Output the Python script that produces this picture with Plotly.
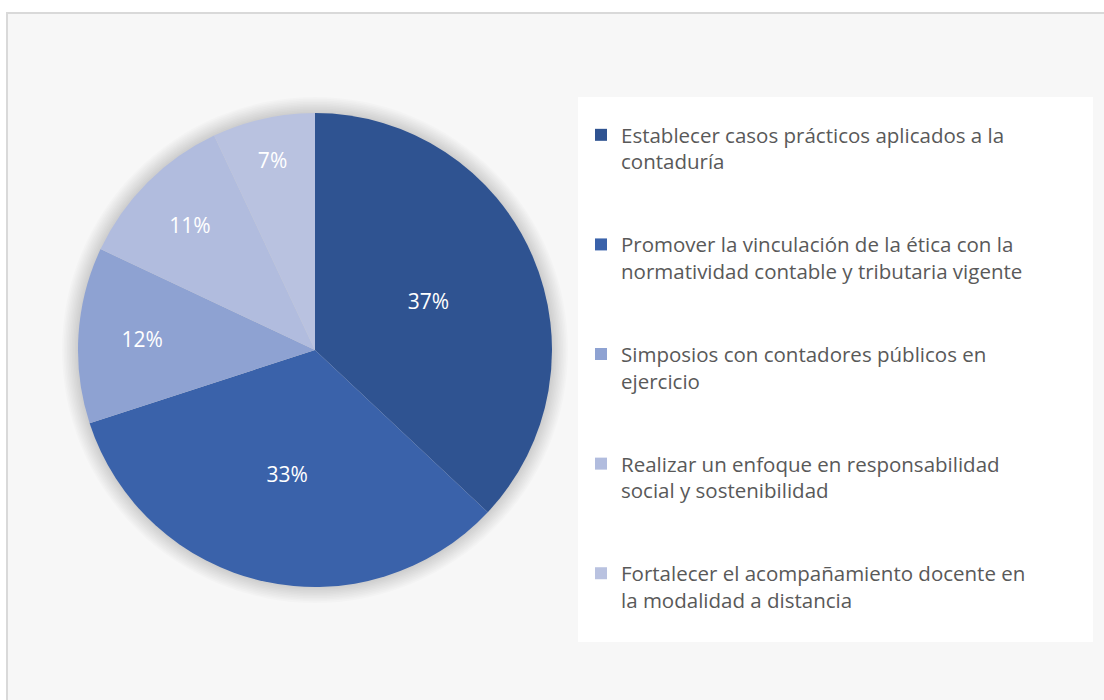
import plotly.graph_objects as go

categories = [
    "Establecer casos prácticos aplicados a la<br>contaduría",
    "Promover la vinculación de la ética con la<br>normatividad contable y tributaria vigente",
    "Simposios con contadores públicos en<br>ejercicio",
    "Realizar un enfoque en responsabilidad<br>social y sostenibilidad",
    "Fortalecer el acompañamiento docente en<br>la modalidad a distancia",
]
values = [37, 33, 12, 11, 7]
colors = ["#2f5391", "#3a62aa", "#8ea2d2", "#b1bcde", "#b9c2e0"]

W, H = 1104, 700


def px(x):
    return x / W


def py(y):
    return 1 - y / H


cx, cy, r = 315, 350, 237

legend_labels = [c + "<br> <br> " for c in categories]

fig = go.Figure()
fig.add_trace(go.Pie(
    labels=legend_labels,
    values=values,
    marker=dict(colors=colors, line=dict(width=0)),
    sort=False,
    direction="clockwise",
    rotation=0,
    textinfo="percent",
    textposition="inside",
    insidetextfont=dict(color="white", size=21, family="Open Sans"),
    insidetextorientation="horizontal",
    domain=dict(x=[px(cx - r), px(cx + r)], y=[py(cy + r), py(cy - r)]),
    hoverinfo="skip",
))

shapes = [
    # chart frame
    dict(type="rect", xref="paper", yref="paper", x0=px(7), x1=1.05, y0=-0.05, y1=py(13),
         fillcolor="#f7f7f7", line=dict(color="#d9d9d9", width=2), layer="below"),
    # legend box
    dict(type="rect", xref="paper", yref="paper", x0=px(578), x1=px(1093), y0=py(642), y1=py(97),
         fillcolor="white", line=dict(width=0), layer="below"),
]
for i in range(1, 11):
    rr = r + i * 1.6
    shapes.append(dict(type="circle", xref="paper", yref="paper",
                       x0=px(cx - rr), x1=px(cx + rr),
                       y0=py(cy + rr), y1=py(cy - rr),
                       fillcolor="rgba(0,0,0,0.017)", line=dict(width=0), layer="below"))

fig.update_layout(
    width=W, height=H,
    margin=dict(l=0, r=0, t=0, b=0),
    paper_bgcolor="white",
    plot_bgcolor="white",
    shapes=shapes,
    showlegend=True,
    legend=dict(
        x=px(581), y=py(115), xanchor="left", yanchor="top",
        bgcolor="rgba(0,0,0,0)",
        font=dict(family="Open Sans", size=20.5, color="#595959"),
        valign="top",
        itemclick=False, itemdoubleclick=False,
        tracegroupgap=0,
    ),
)

fig.write_html("out.html", config={"displayModeBar": False},
               post_script="document.body.style.margin='0';")
